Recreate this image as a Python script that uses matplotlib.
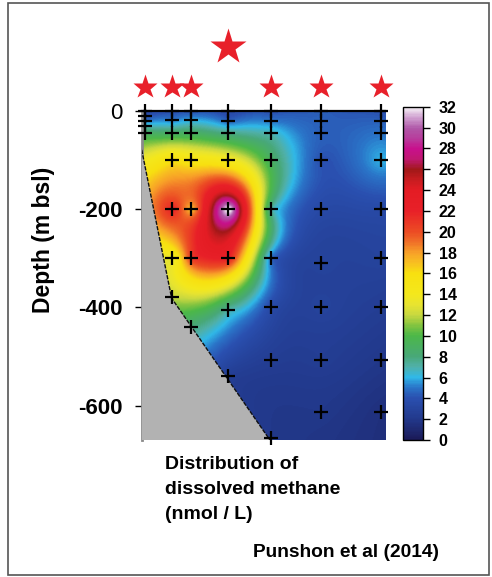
import numpy as np
import matplotlib
matplotlib.use("Agg")
import matplotlib.pyplot as plt
import matplotlib.transforms as mtransforms
from matplotlib.colors import LinearSegmentedColormap
from matplotlib.patches import Polygon, Rectangle

# station positions along the section (arbitrary distance units 0-100)
station_x = [1.4, 12.5, 20.3, 35.6, 53.1, 73.7, 98.4]
big_star_station = 3

# sample depths (m) and dissolved methane (nmol/L) for each station
depth_1 = [0, -10, -20, -30, -45]
ch4_1 = [3.5, 4, 5, 7, 9]
depth_2 = [0, -18, -45, -100, -200, -300, -378]
ch4_2 = [4, 5, 9, 16, 22, 13, 12]
depth_3 = [0, -18, -45, -100, -200, -300, -439]
ch4_3 = [4, 6, 9, 15, 17, 21, 8]
depth_4 = [0, -20, -45, -100, -200, -300, -405, -540]
ch4_4 = [3.5, 4.5, 8, 14, 33, 22, 7, 2.5]
depth_5 = [0, -20, -45, -100, -200, -300, -400, -507, -665]
ch4_5 = [4, 5, 7, 9, 7, 4.5, 3.5, 2.5, 2]
depth_6 = [0, -20, -45, -100, -200, -310, -400, -507, -612]
ch4_6 = [4.5, 4.5, 4.5, 4, 3.5, 3, 3, 2.5, 2]
depth_7 = [0, -20, -45, -100, -200, -300, -400, -507, -612]
ch4_7 = [4, 4.5, 5, 6, 3.5, 3, 2.5, 2, 1.5]

# seafloor outline (x, depth)
seafloor_x = [0, 12.3, 52.7]
seafloor_z = [-79, -381, -670]

cbar_ticks = list(range(0, 33, 2))

# colour scale
cmap_vals = [0, 2, 4, 5, 6, 7, 8, 10, 11, 12, 13, 14, 16, 17, 18, 19, 20, 22, 24, 25, 26, 27, 28, 29, 30, 31, 32]
cmap_cols = ["#1b1a58", "#22398c", "#2a50b0", "#2a74c8", "#30b8e8", "#50b0a8", "#48a878",
             "#4cb848", "#84c440", "#c8d840", "#e8e430", "#f4e81c", "#f8e010", "#f8c020",
             "#f8a028", "#f07028", "#ec4c24", "#e82028", "#e41c24", "#c81c20", "#a01818",
             "#c01870", "#c8108c", "#b83c9c", "#b058a8", "#d0a0d0", "#f6f2f6"]
cmap = LinearSegmentedColormap.from_list("odv", [(v / 32, c) for v, c in zip(cmap_vals, cmap_cols)])

plt.rcParams["font.family"] = ["Liberation Sans", "DejaVu Sans"]

depths = [depth_1, depth_2, depth_3, depth_4, depth_5, depth_6, depth_7]
values = [ch4_1, ch4_2, ch4_3, ch4_4, ch4_5, ch4_6, ch4_7]
px, pz, pv = [], [], []
for sx, d, v in zip(station_x, depths, values):
    px += [sx] * len(d)
    pz += d
    pv += v
px, pz, pv = np.array(px, float), np.array(pz, float), np.array(pv, float)


# radial basis gridding (roughly in screen units so it is isotropic)
def rbf_grid(x, z, v, gx, gz):
    sx, sz = 2.43, 0.49
    P = np.c_[x * sx, -z * sz]
    n = len(P)
    r = np.sqrt(((P[:, None, :] - P[None, :, :]) ** 2).sum(-1))
    A = np.zeros((n + 3, n + 3))
    A[:n, :n] = r
    Q = np.c_[np.ones(n), P]
    A[:n, n:] = Q
    A[n:, :n] = Q.T
    w = np.linalg.solve(A, np.r_[v, np.zeros(3)])
    G = np.c_[gx.ravel() * sx, -gz.ravel() * sz]
    rg = np.sqrt(((G[:, None, :] - P[None, :, :]) ** 2).sum(-1))
    out = rg @ w[:n] + w[n] + G @ w[n + 1:]
    return out.reshape(gx.shape)


gx, gz = np.meshgrid(np.linspace(0, 100, 240), np.linspace(-670, 0, 330))
field = np.clip(rbf_grid(px, pz, pv, gx, gz), 0, 32)

fig = plt.figure(figsize=(4.92, 5.77), dpi=100)
ax = fig.add_axes([0.288, 0.2374, 0.4945, 0.570])
ax.imshow(field, extent=[0, 100, -670, 0], origin="lower", aspect="auto",
          cmap=cmap, vmin=0, vmax=32, interpolation="bilinear")

poly = Polygon(list(zip(seafloor_x, seafloor_z)) + [(0, -670)], closed=True,
               facecolor="#b2b2b2", edgecolor="none", zorder=3)
ax.add_patch(poly)
ax.plot(seafloor_x, seafloor_z, color="#111111", lw=1, ls=(0, (3, 1)), zorder=4)

ax.plot(px, pz, ls="none", marker="+", ms=10, mew=1.6, color="black", zorder=5, clip_on=False)

trans = mtransforms.blended_transform_factory(ax.transData, ax.transAxes)
for i, sx in enumerate(station_x):
    if i == big_star_station:
        ax.plot(sx, 1.195, marker="*", ms=27, color="#e8202a", mec="none", transform=trans, clip_on=False)
    else:
        ax.plot(sx, 1.074, marker="*", ms=18.5, color="#e8202a", mec="none", transform=trans, clip_on=False)

ax.set_xlim(0, 100)
ax.set_ylim(-670, 0)
ax.set_xticks([])
ax.set_yticks([0, -200, -400, -600])
ax.set_yticklabels(["0", "-200", "-400", "-600"])
ax.tick_params(axis="y", direction="out", length=5, width=1, pad=9, labelsize=16)
for lab in ax.get_yticklabels():
    lab.set_fontweight("normal" if lab.get_text() == "0" else "bold")
ax.spines["top"].set_linewidth(1.6)
ax.spines["left"].set_color("#8a8a8a")
ax.spines["left"].set_linewidth(2)
ax.spines["right"].set_visible(False)
ax.spines["bottom"].set_visible(False)

cax = fig.add_axes([0.8197, 0.2374, 0.0407, 0.5777])
sm = plt.cm.ScalarMappable(cmap=cmap, norm=plt.Normalize(0, 32))
cb = fig.colorbar(sm, cax=cax, ticks=cbar_ticks)
cb.outline.set_linewidth(1)
cax.tick_params(length=5, width=1, pad=6, labelsize=11.5)
for lab in cax.get_yticklabels():
    lab.set_fontweight("bold")

fig.text(44 / 492, 1 - 240 / 577, "Depth (m bsl)", rotation=90, ha="center", va="center",
         fontsize=16.5, fontweight="bold")
fig.text(165 / 492, 1 - 456 / 577, "Distribution of\ndissolved methane\n(nmol / L)",
         ha="left", va="top", fontsize=14, fontweight="bold", linespacing=1.6)
fig.text(253 / 492, 1 - 557 / 577, "Punshon et al (2014)", ha="left", va="baseline",
         fontsize=13.8, fontweight="bold")

fig.patches.append(Rectangle((8 / 492, 2 / 577), 481 / 492, 572 / 577, transform=fig.transFigure,
                             fill=False, edgecolor="#555555", lw=1.2))

fig.savefig("out.png", dpi=100)
